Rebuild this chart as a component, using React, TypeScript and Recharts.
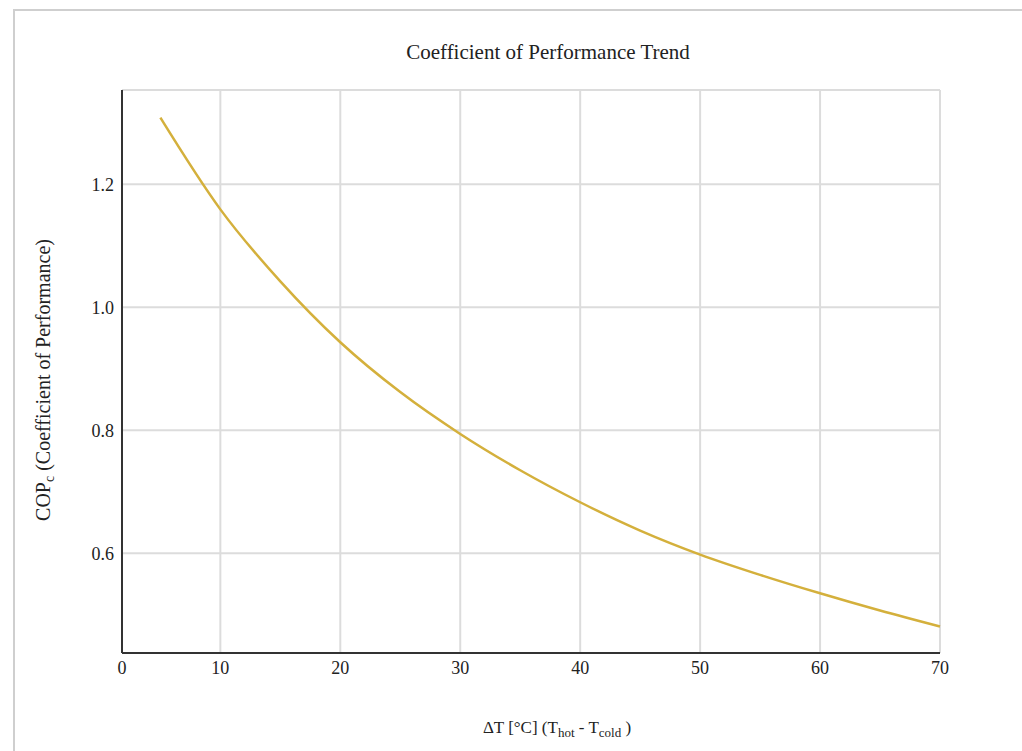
import { LineChart, Line, XAxis, YAxis, CartesianGrid, ReferenceLine } from "recharts";

const deltaT = [5, 10, 15, 20, 25, 30, 35, 40, 45, 50, 55, 60, 65, 70];
const cop = [1.308, 1.159, 1.042, 0.943, 0.862, 0.794, 0.735, 0.683, 0.637, 0.598, 0.565, 0.535, 0.507, 0.481];
const xTicks = [1.8, 10, 20, 30, 40, 50, 60, 70];
const yTicks = [0.6, 0.8, 1.0, 1.2];

const data = deltaT.map((t, i) => ({ t, cop: cop[i] }));

const font = "'Liberation Serif', 'Times New Roman', serif";
const grid = "#dcdcdc";
const axis = "#333";

export default function App() {
  return (
    <div style={{ position: "absolute", left: 0, top: 0, width: 1022, height: 751, background: "#fff", overflow: "hidden" }}>
      <div style={{ position: "absolute", left: 13, top: 9, width: 1100, height: 800, border: "2px solid #cfcfcf" }} />
      <div style={{ position: "absolute", left: 0, top: 0 }}>
        <LineChart width={1022} height={751} data={data} margin={{ top: 90, right: 82, bottom: 48, left: 62 }}>
          <CartesianGrid stroke={grid} strokeWidth={2} />
          <ReferenceLine y={1.353} stroke={grid} strokeWidth={2} />
          <XAxis
            type="number"
            dataKey="t"
            domain={[1.8, 70]}
            ticks={xTicks}
            tickFormatter={(v: number) => (v < 5 ? "0" : String(v))}
            tickLine={false}
            axisLine={{ stroke: axis, strokeWidth: 2 }}
            height={50}
            tick={{ fill: "#222", fontSize: 18, fontFamily: font }}
          />
          <YAxis
            type="number"
            domain={[0.438, 1.353]}
            ticks={yTicks}
            tickFormatter={(v: number) => v.toFixed(1)}
            tickLine={false}
            axisLine={{ stroke: axis, strokeWidth: 2 }}
            width={60}
            tick={{ fill: "#222", fontSize: 18, fontFamily: font }}
          />
          <Line
            type="monotone"
            dataKey="cop"
            stroke="#d4b03c"
            strokeWidth={2.5}
            dot={false}
            isAnimationActive={false}
          />
          <text x={548} y={59} textAnchor="middle" fontFamily={font} fontSize={21} fill="#222">
            Coefficient of Performance Trend
          </text>
          <text x={557} y={733} textAnchor="middle" fontFamily={font} fontSize={17} fill="#222">
            ΔT [°C] (T<tspan fontSize={13} dy={4}>hot</tspan>
            <tspan dy={-4}> - T</tspan>
            <tspan fontSize={13} dy={4}>cold</tspan>
            <tspan dy={-4}> )</tspan>
          </text>
          <text
            x={0}
            y={0}
            transform="translate(50, 380) rotate(-90)"
            textAnchor="middle"
            fontFamily={font}
            fontSize={20}
            fill="#222"
          >
            COP<tspan fontSize={14} dy={4}>c</tspan>
            <tspan dy={-4}> (Coefficient of Performance)</tspan>
          </text>
        </LineChart>
      </div>
    </div>
  );
}
